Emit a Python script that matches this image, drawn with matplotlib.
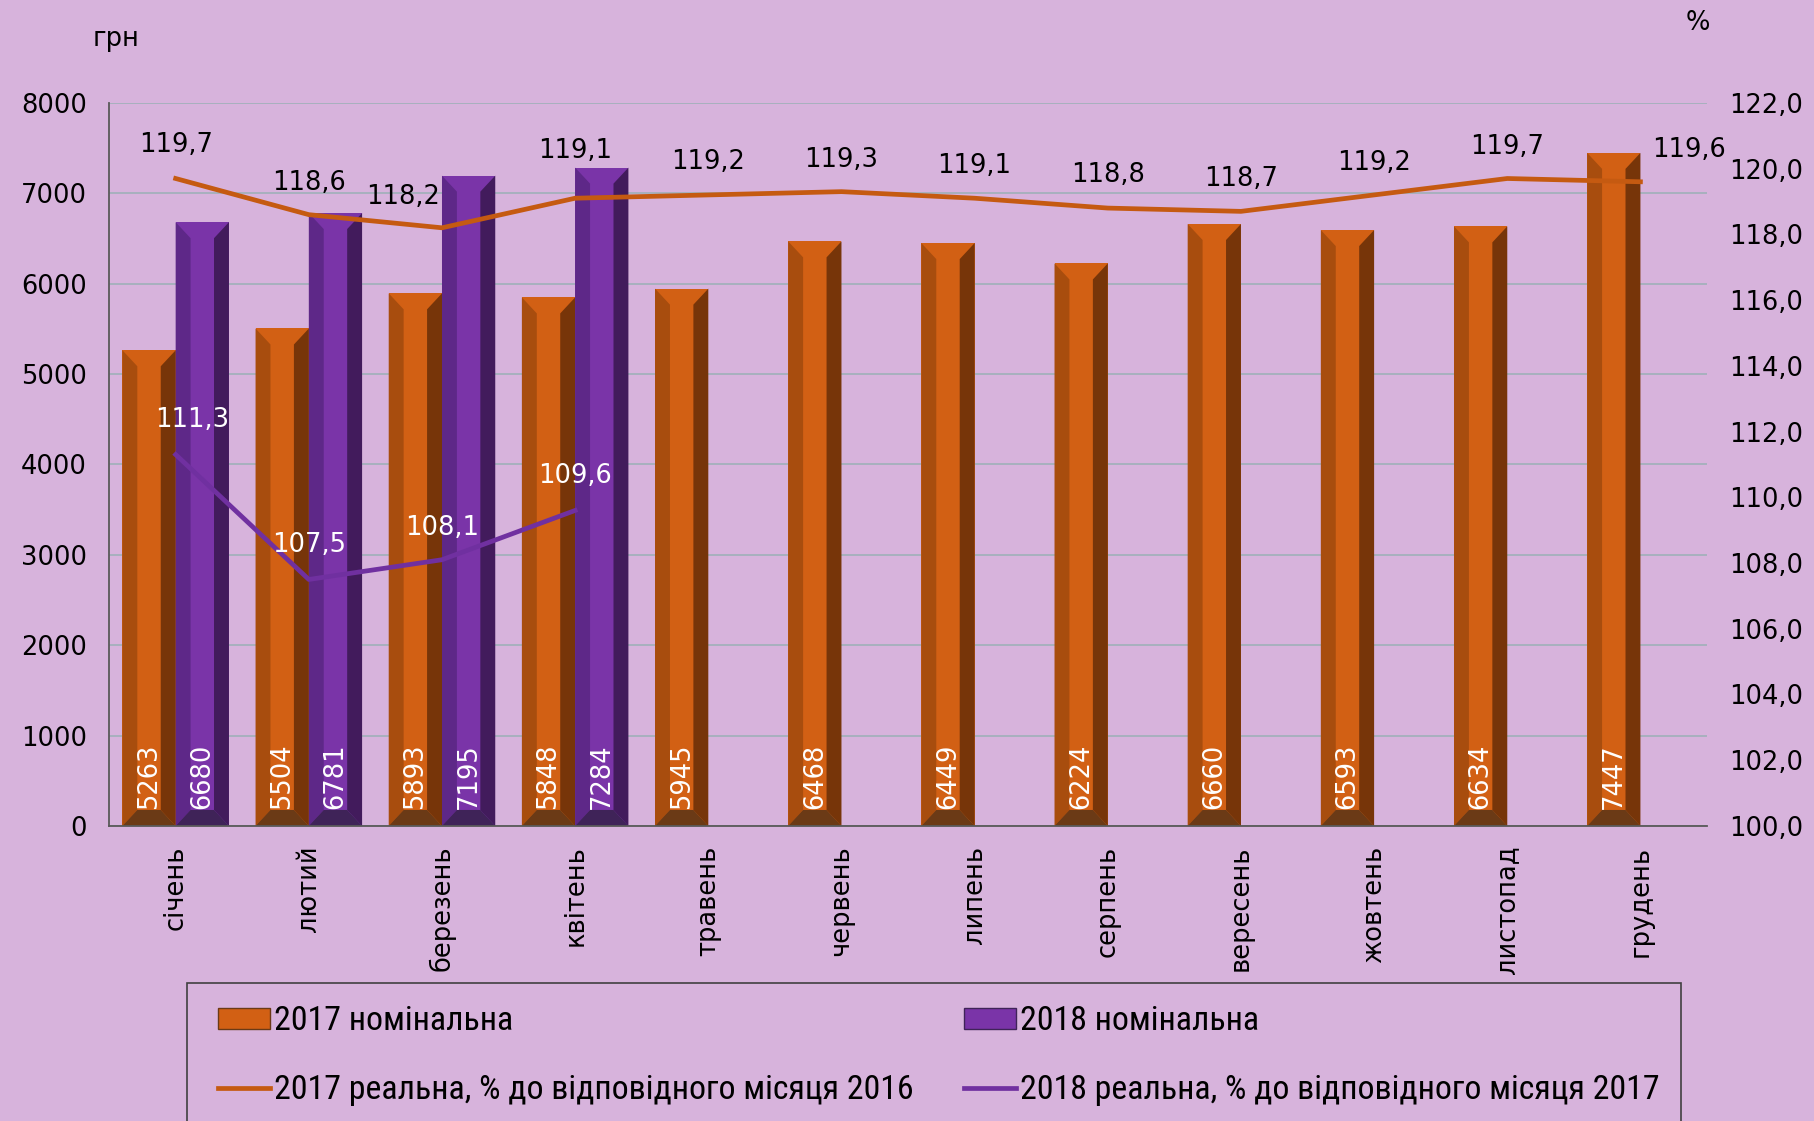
import numpy as np
import matplotlib.pyplot as plt
from matplotlib import font_manager as fm
from matplotlib.patches import Polygon, Patch, Rectangle
from matplotlib.lines import Line2D

plt.rcParams['font.family'] = ['DejaVu Sans']

months = ['січень', 'лютий', 'березень', 'квітень', 'травень', 'червень',
          'липень', 'серпень', 'вересень', 'жовтень', 'листопад', 'грудень']
nominal_2017 = [5263, 5504, 5893, 5848, 5945, 6468, 6449, 6224, 6660, 6593, 6634, 7447]
nominal_2018 = [6680, 6781, 7195, 7284]
real_2017 = [119.7, 118.6, 118.2, 119.1, 119.2, 119.3, 119.1, 118.8, 118.7, 119.2, 119.7, 119.6]
real_2018 = [111.3, 107.5, 108.1, 109.6]
legend_labels = ['2017 номінальна', '2017 реальна, % до відповідного місяця 2016',
                 '2018 номінальна', '2018 реальна, % до відповідного місяця 2017']

# label offsets (points) for the line values
off_2017 = [(0, 24), (0, 23), (-28, 22), (0, 34), (0, 24), (0, 23),
            (0, 23), (0, 24), (0, 23), (0, 23), (0, 23), (35, 23)]
off_2018 = [(12, 25), (0, 25), (0, 23), (0, 25)]

bg = '#D7B3DC'
orange = dict(mid='#D26014', left='#A84D0E', right='#773509', bottom='#6B3A16')
purple = dict(mid='#7A34A8', left='#5E2888', right='#421B5C', bottom='#3F2358')
line_orange = '#C55A11'
line_purple = '#7030A0'


def bevel_bar(ax, xc, h, w, c, dy=177):
    ax.bar(xc, h, w, color=c['mid'], linewidth=0, zorder=2)
    x0, x1 = xc - w / 2, xc + w / 2
    b = w * 0.28
    polys = [
        ([(x0, 0), (x0 + b, dy), (x0 + b, h - dy), (x0, h)], c['left']),
        ([(x1, 0), (x1 - b, dy), (x1 - b, h - dy), (x1, h)], c['right']),
        ([(x0, 0), (x0 + b, dy), (x1 - b, dy), (x1, 0)], c['bottom']),
    ]
    for pts, col in polys:
        ax.add_patch(Polygon(pts, closed=True, facecolor=col, edgecolor='none', zorder=2))


# narrow font for the legend, if one is installed
leg_fp = fm.FontProperties(family='DejaVu Sans')
for f in fm.fontManager.ttflist:
    name = f.fname.replace(' ', '').lower()
    if 'narrow' in name or 'condensed' in name:
        if 'bold' not in name and 'italic' not in name and 'oblique' not in name:
            leg_fp = fm.FontProperties(fname=f.fname)
            if 'liberationsansnarrow' in name:
                break

fig = plt.figure(figsize=(18.15, 11.21), dpi=100, facecolor=bg)
ax = fig.add_axes([0.0601, 0.2632, 0.8804, 0.645])
ax.set_facecolor(bg)

x = np.arange(len(months))
w = 0.4
for i, v in enumerate(nominal_2017):
    bevel_bar(ax, x[i] - w / 2, v, w, orange)
    ax.text(x[i] - w / 2, 190, str(v), rotation=90, ha='center', va='bottom',
            color='white', fontsize=18.5, zorder=5)
for i, v in enumerate(nominal_2018):
    bevel_bar(ax, x[i] + w / 2, v, w, purple)
    ax.text(x[i] + w / 2, 190, str(v), rotation=90, ha='center', va='bottom',
            color='white', fontsize=18.5, zorder=5)

ax.set_xlim(-0.5, len(months) - 0.5)
ax.set_ylim(0, 8000)
ax.set_yticks(range(0, 8001, 1000))
ax.yaxis.grid(True, color='#9FB0B8', lw=1.2, zorder=0)
ax.set_axisbelow(True)
ax.set_xticks(x)
ax.set_xticklabels(months, rotation=90, fontsize=18.5, va='top', ha='center')
ax.tick_params(axis='x', length=0, pad=14)
ax.tick_params(axis='y', length=0, pad=16, labelsize=18.5)
for s in ['top', 'right']:
    ax.spines[s].set_visible(False)
for s in ['left', 'bottom']:
    ax.spines[s].set_color('#595959')
    ax.spines[s].set_linewidth(1.3)

ax2 = ax.twinx()
ax2.set_ylim(100, 122)
ax2.set_yticks(np.arange(100, 122.1, 2))
ax2.set_yticklabels([f'{t:.1f}'.replace('.', ',') for t in np.arange(100, 122.1, 2)])
ax2.tick_params(axis='y', length=0, pad=16, labelsize=18.5)
for s in ax2.spines.values():
    s.set_visible(False)

ax2.plot(x, real_2017, color=line_orange, lw=3.4, zorder=3)
ax2.plot(x[:len(real_2018)], real_2018, color=line_purple, lw=3.4, zorder=3)
for i, v in enumerate(real_2017):
    ax2.annotate(f'{v:.1f}'.replace('.', ','), (x[i], v), xytext=off_2017[i],
                 textcoords='offset points', ha='center', va='center',
                 fontsize=18.5, color='black')
for i, v in enumerate(real_2018):
    ax2.annotate(f'{v:.1f}'.replace('.', ','), (x[i], v), xytext=off_2018[i],
                 textcoords='offset points', ha='center', va='center',
                 fontsize=18.5, color='white')

fig.text(116 / 1815, 1 - 39 / 1121, 'грн', fontsize=18.5, ha='center', va='center')
fig.text(1698 / 1815, 1 - 23 / 1121, '%', fontsize=18.5, ha='center', va='center')

# fit the legend font so the long label is ~640 px wide
renderer = fig.canvas.get_renderer()
probe = fig.text(0, 0, legend_labels[1], fontproperties=leg_fp, fontsize=20)
width = probe.get_window_extent(renderer).width
probe.remove()
fs = 20 * 640 / width
fs_px = fs * 100 / 72
leg_fp.set_size(fs)

fig.patches.append(Rectangle((187 / 1815, -0.05), (1681 - 187) / 1815, 0.05 + (1121 - 983) / 1121,
                             transform=fig.transFigure, facecolor='none',
                             edgecolor='#404040', lw=1.2))
handles = [Patch(facecolor=orange['mid'], edgecolor=orange['bottom']),
           Line2D([], [], color=line_orange, lw=3.4),
           Patch(facecolor=purple['mid'], edgecolor=purple['bottom']),
           Line2D([], [], color=line_purple, lw=3.4)]
labels = [legend_labels[0], legend_labels[1], legend_labels[2], legend_labels[3]]
text_h = 1.17 * fs_px
fig.legend(handles, labels, ncol=2, loc='upper left',
           bbox_to_anchor=(218 / 1815, 1 - (1025 - text_h / 2) / 1121), frameon=False,
           borderpad=0, borderaxespad=0, handlelength=52 / fs_px, handleheight=20 / fs_px,
           handletextpad=4 / fs_px, columnspacing=50 / fs_px,
           labelspacing=(77 - text_h) / fs_px, prop=leg_fp)

fig.savefig('out.png', dpi=100, facecolor=bg)
